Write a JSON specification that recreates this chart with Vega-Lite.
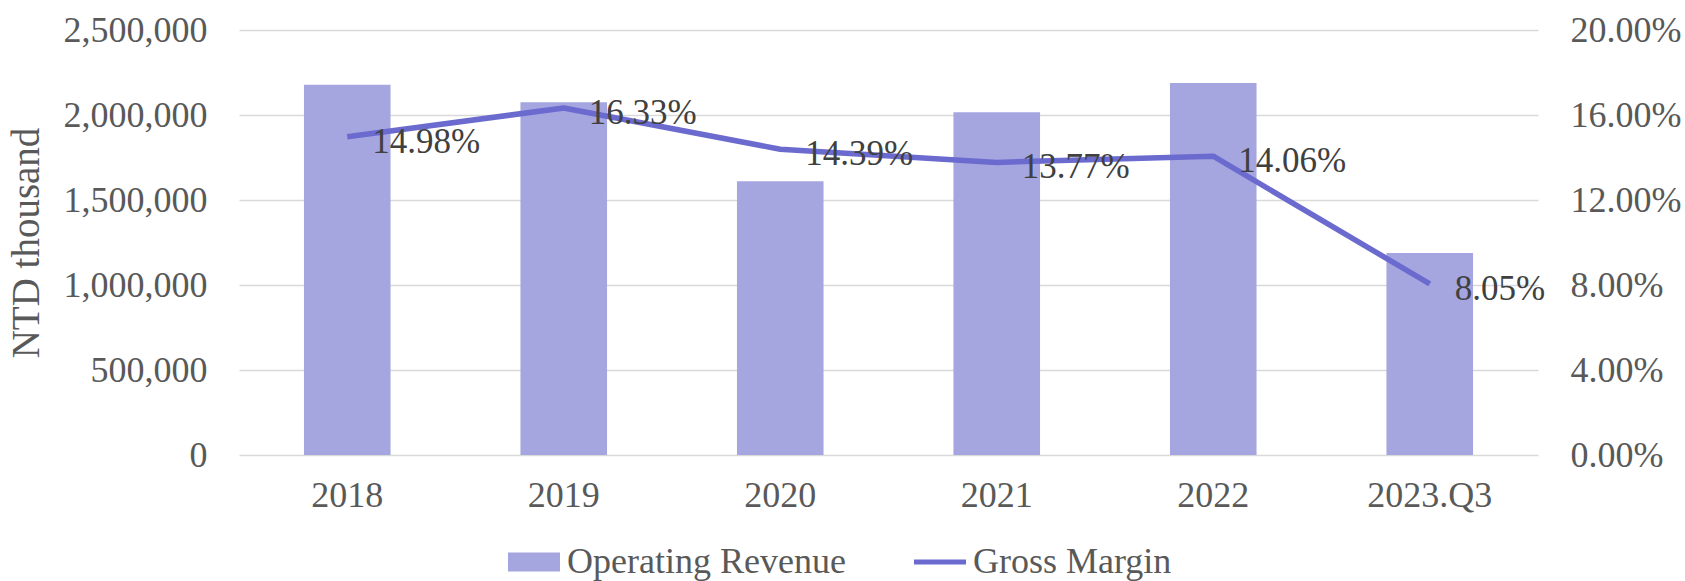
{
  "$schema": "https://vega.github.io/schema/vega-lite/v6.json",
  "width": 1299,
  "height": 425,
  "autosize": "none",
  "padding": {"left": 239, "top": 30, "right": 147, "bottom": 126},
  "background": "#ffffff",
  "config": {
    "view": {"stroke": null},
    "font": "Liberation Serif",
    "axis": {
      "labelFont": "Liberation Serif",
      "titleFont": "Liberation Serif",
      "labelColor": "#595959",
      "titleColor": "#595959",
      "labelFontSize": 36,
      "titleFontSize": 39,
      "titleFontWeight": "normal",
      "ticks": false,
      "domain": false
    }
  },
  "data": {
    "values": [
      {"period": "2018", "revenue": 2178000, "gm": 0.1498},
      {"period": "2019", "revenue": 2075000, "gm": 0.1633},
      {"period": "2020", "revenue": 1610000, "gm": 0.1439},
      {"period": "2021", "revenue": 2016000, "gm": 0.1377},
      {"period": "2022", "revenue": 2188000, "gm": 0.1406},
      {"period": "2023.Q3", "revenue": 1188000, "gm": 0.0805}
    ]
  },
  "encoding": {
    "x": {
      "field": "period",
      "type": "ordinal",
      "sort": null,
      "scale": {"paddingInner": 0.6, "paddingOuter": 0.3},
      "axis": {"title": null, "labelAngle": 0, "labelPadding": 23, "grid": false}
    }
  },
  "layer": [
    {
      "mark": {"type": "bar"},
      "encoding": {
        "y": {
          "field": "revenue",
          "type": "quantitative",
          "scale": {"domain": [0, 2500000], "nice": false},
          "axis": {
            "title": "NTD thousand",
            "values": [0, 500000, 1000000, 1500000, 2000000, 2500000],
            "format": ",.0f",
            "labelPadding": 32,
            "titlePadding": 17,
            "grid": true,
            "gridColor": "#d9d9d9",
            "gridWidth": 1.5
          }
        },
        "color": {
          "datum": "Operating Revenue",
          "type": "nominal",
          "scale": {"domain": ["Operating Revenue", "Gross Margin"], "range": ["#A5A5E0", "#6A6ACF"]},
          "legend": {
            "title": null,
            "orient": "none",
            "direction": "horizontal",
            "legendX": 269,
            "legendY": 506,
            "labelFont": "Liberation Serif",
            "labelFontSize": 36,
            "labelColor": "#595959",
            "labelOffset": 7,
            "symbolSize": 2704,
            "symbolStrokeWidth": 0,
            "columnPadding": 68,
            "labelLimit": 500,
            "encode": {
              "symbols": {
                "update": {
                  "shape": {"signal": "datum.value === 'Gross Margin' ? 'M-1,-0.1L1,-0.1L1,0.1L-1,0.1Z' : 'M-1,-0.365L1,-0.365L1,0.365L-1,0.365Z'"},
                  "fill": {"signal": "datum.value === 'Gross Margin' ? '#6A6ACF' : '#A5A5E0'"},
                  "stroke": {"value": "transparent"},
                  "strokeWidth": {"value": 0},
                  "opacity": {"value": 1},
                  "fillOpacity": {"value": 1}
                }
              }
            }
          }
        }
      }
    },
    {
      "encoding": {
        "y": {
          "field": "gm",
          "type": "quantitative",
          "scale": {"domain": [0, 0.2], "nice": false},
          "axis": {
            "orient": "right",
            "title": null,
            "values": [0, 0.04, 0.08, 0.12, 0.16, 0.2],
            "format": ".2%",
            "labelPadding": 32,
            "grid": false
          }
        }
      },
      "layer": [
        {
          "mark": {"type": "line", "strokeWidth": 5.5, "strokeJoin": "round"},
          "encoding": {
            "color": {"datum": "Gross Margin", "type": "nominal"}
          }
        },
        {
          "mark": {
            "type": "text",
            "align": "left",
            "baseline": "middle",
            "dx": 25,
            "dy": 5,
            "font": "Liberation Serif",
            "fontSize": 35,
            "color": "#404040"
          },
          "encoding": {
            "text": {"field": "gm", "type": "quantitative", "format": ".2%"}
          }
        }
      ]
    }
  ],
  "resolve": {"scale": {"y": "independent"}}
}
